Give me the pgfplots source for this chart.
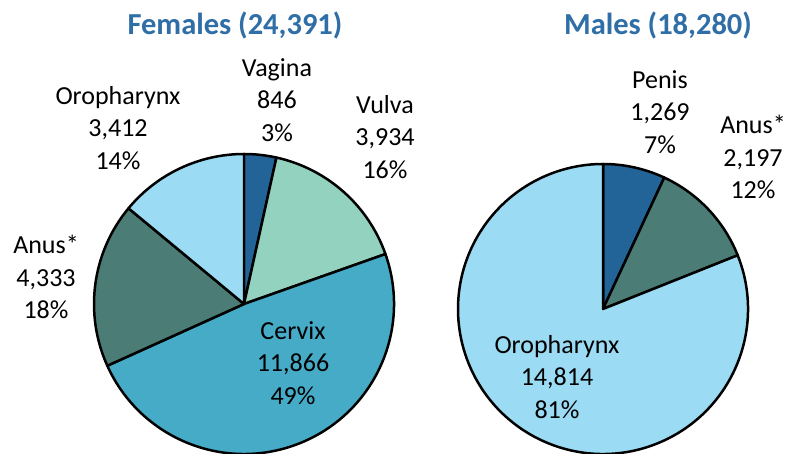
\documentclass[border=0pt]{standalone}
\usepackage{pgfplots}
\usepackage{pgfplotstable}
\pgfplotsset{compat=1.18}
\usepackage{fontspec}
\setmainfont{Carlito}

\definecolor{cdark}{HTML}{236498}
\definecolor{cmint}{HTML}{92D2BF}
\definecolor{ccerv}{HTML}{46ABC6}
\definecolor{cteal}{HTML}{4B7D76}
\definecolor{clight}{HTML}{9BDBF3}
\definecolor{ctitle}{HTML}{2F6EA6}

\tikzset{
  lab/.style={font={\fontsize{26bp}{32.5bp}\selectfont}, align=center, inner sep=0pt, text=black},
  ttl/.style={font={\fontsize{30.5bp}{32bp}\selectfont\bfseries}, inner sep=0pt, text=ctitle},
}

% values, clockwise from 12 o'clock
\pgfplotstableread{
label value col
Vagina 846 cdark
Vulva 3934 cmint
Cervix 11866 ccerv
Anus 4333 cteal
Oropharynx 3412 clight
}\females

\pgfplotstableread{
label value col
Penis 1269 cdark
Anus 2197 cteal
Oropharynx 14814 clight
}\males

% #1 table, #2 cx, #3 cy, #4 radius, #5 total (thousands)
\newcommand{\drawpie}[5]{%
  \def\cum{0}%
  \pgfplotstablegetrowsof{#1}\pgfmathtruncatemacro\lastrow{\pgfplotsretval-1}%
  \pgfplotsforeachungrouped \i in {0,...,\lastrow}{%
    \pgfplotstablegetelem{\i}{value}\of#1\let\sliceval\pgfplotsretval
    \pgfplotstablegetelem{\i}{col}\of#1\let\slicecol\pgfplotsretval
    \pgfmathsetmacro\aS{90-360*\cum/#5}%
    \pgfmathsetmacro\cum{\cum+\sliceval/1000}%
    \pgfmathsetmacro\aE{90-360*\cum/#5}%
    \edef\temp{\noexpand\filldraw[fill=\slicecol,draw=black,line width=2.5pt,line join=round]
      (axis cs:#2,#3) -- +(\aS:#4bp) arc[start angle=\aS,end angle=\aE,radius=#4bp] -- cycle;}%
    \temp
  }}

\begin{document}
\begin{tikzpicture}
\begin{axis}[
  x=1bp, y=1bp,
  xmin=0, xmax=793, ymin=0, ymax=454,
  hide axis, clip=false,
]
\coordinate (bl) at (axis cs:0,0);
\coordinate (tr) at (axis cs:793,454);

\drawpie{\females}{244}{150}{150}{24.391}
\drawpie{\males}{603}{145}{145}{18.280}

\node[ttl] at (axis cs:235,429) {Females (24,391)};
\node[ttl] at (axis cs:658,429) {Males (18,280)};

\node[lab] at (axis cs:118,326) {Oropharynx\\3,412\\14\%};
\node[lab] at (axis cs:277,354) {Vagina\\846\\3\%};
\node[lab] at (axis cs:385,317) {Vulva\\3,934\\16\%};
\node[lab] at (axis cs:46,177) {Anus*\\4,333\\18\%};
\node[lab] at (axis cs:293,91) {Cervix\\11,866\\49\%};

\node[lab] at (axis cs:660,342) {Penis\\1,269\\7\%};
\node[lab] at (axis cs:753,297) {Anus*\\2,197\\12\%};
\node[lab] at (axis cs:557,77) {Oropharynx\\14,814\\81\%};
\end{axis}
\pgfresetboundingbox
\path (bl) rectangle (tr);
\end{tikzpicture}
\end{document}
